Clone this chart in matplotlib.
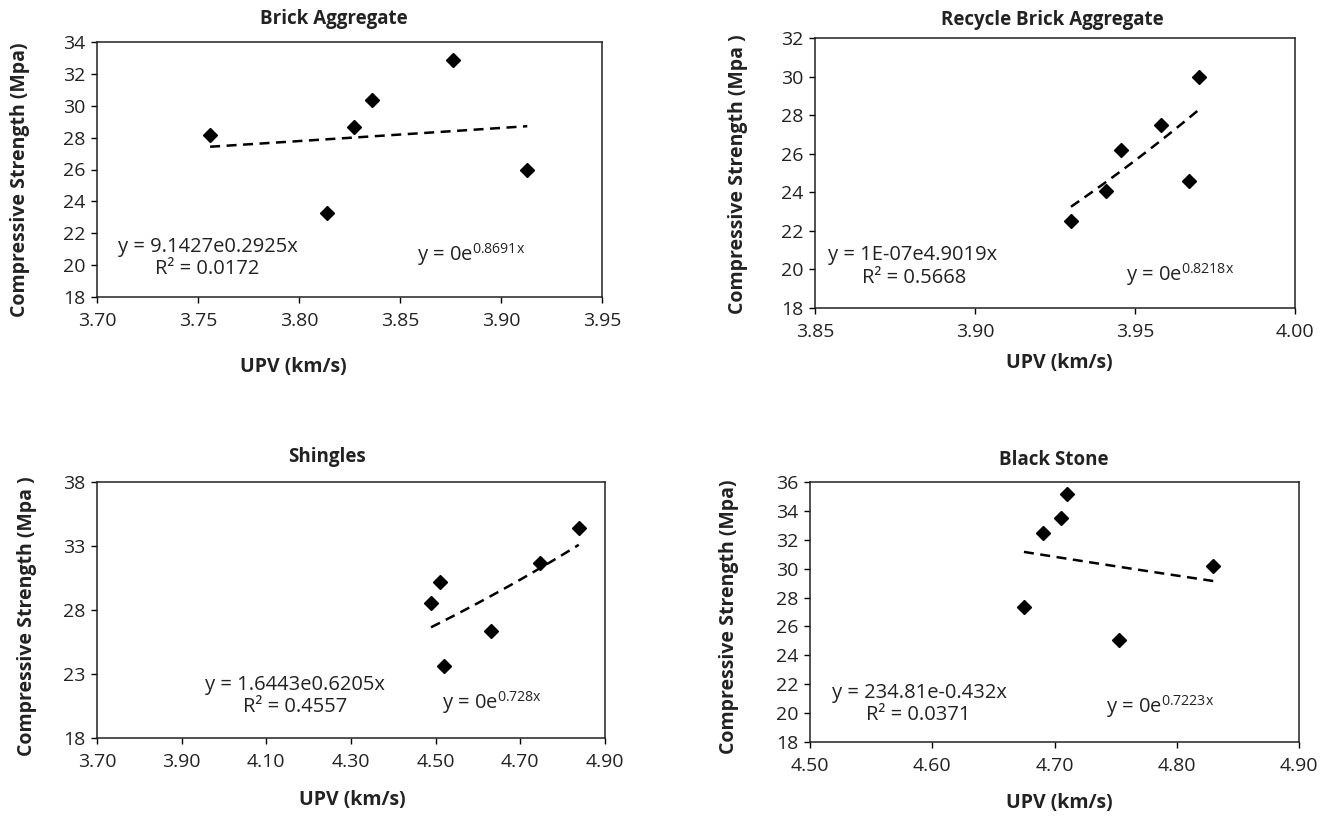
import numpy as np
import matplotlib
matplotlib.use("Agg")
import matplotlib.pyplot as plt

plt.rcParams['font.family'] = ['Open Sans', 'DejaVu Sans']
plt.rcParams['mathtext.default'] = 'regular'

W, H = 1328, 819

# datos de cada agregado: UPV (km/s) y resistencia (MPa)
titulos = ["Brick Aggregate", "Recycle Brick Aggregate", "Shingles", "Black Stone"]

upv_brick = [3.756, 3.814, 3.827, 3.836, 3.876, 3.913]
fc_brick = [28.14, 23.27, 28.67, 30.34, 32.89, 25.99]

upv_recycle = [3.930, 3.941, 3.9455, 3.958, 3.967, 3.970]
fc_recycle = [22.49, 24.08, 26.21, 27.47, 24.60, 29.98]

upv_shingles = [4.489, 4.511, 4.520, 4.631, 4.747, 4.838]
fc_shingles = [28.57, 30.21, 23.64, 26.39, 31.71, 34.42]

upv_stone = [4.675, 4.691, 4.705, 4.710, 4.753, 4.830]
fc_stone = [27.38, 32.44, 33.52, 35.17, 25.06, 30.18]

# linea de tendencia exponencial y = a*e^(b*x)
coef_a = [9.1427, 1e-07, 1.6443, 234.81]
coef_b = [0.2925, 4.9019, 0.6205, -0.432]
ecuaciones = ["y = 9.1427e0.2925x", "y = 1E-07e4.9019x", "y = 1.6443e0.6205x", "y = 234.81e-0.432x"]
r2 = ["0.0172", "0.5668", "0.4557", "0.0371"]
ecu_cero = ["0.8691x", "0.8218x", "0.728x", "0.7223x"]

xticks = [[3.70, 3.75, 3.80, 3.85, 3.90, 3.95],
          [3.85, 3.90, 3.95, 4.00],
          [3.70, 3.90, 4.10, 4.30, 4.50, 4.70, 4.90],
          [4.50, 4.60, 4.70, 4.80, 4.90]]
yticks = [list(range(18, 35, 2)),
          list(range(18, 33, 2)),
          [18, 23, 28, 33, 38],
          list(range(18, 37, 2))]
ylabels = ["Compressive Strength (Mpa)", "Compressive Strength (Mpa )",
           "Compressive Strength (Mpa )", "Compressive Strength (Mpa)"]

datos = [(upv_brick, fc_brick), (upv_recycle, fc_recycle),
         (upv_shingles, fc_shingles), (upv_stone, fc_stone)]

# posiciones en pixeles: caja del grafico (izq, der, arriba, abajo)
cajas = [(97, 602, 42, 297), (815, 1295, 38, 308), (97, 605, 482, 738), (810, 1299, 482, 742)]
pos_titulo = [(334, 19), (1052, 20), (327, 457), (1054, 460)]
pos_xlabel = [(293, 367), (1059, 363), (352, 800), (1059, 803)]
pos_ylabel = [(20, 180), (738, 174), (27, 616), (729, 617)]
pos_ecu = [(208, 247), (913, 255), (295, 685), (919, 693)]
pos_r2 = [(207, 269), (914, 278), (295, 707), (918, 715)]
pos_cero = [(471, 255), (1180, 275), (492, 703), (1160, 707)]


def fx(x):
    return x / W


def fy(y):
    return 1 - y / H


fig = plt.figure(figsize=(W / 100, H / 100), dpi=100)

for i in range(4):
    izq, der, arr, aba = cajas[i]
    ax = fig.add_axes([fx(izq), fy(aba), (der - izq) / W, (aba - arr) / H])
    x, y = datos[i]

    xt = np.linspace(min(x), max(x), 50)
    ax.plot(xt, coef_a[i] * np.exp(coef_b[i] * xt), color='black', lw=1.8,
            linestyle=(0, (4, 2.6)), zorder=2)
    ax.plot(x, y, 'D', color='black', markersize=7.4, zorder=3)

    ax.set_xlim(xticks[i][0], xticks[i][-1])
    ax.set_ylim(yticks[i][0], yticks[i][-1])
    ax.set_xticks(xticks[i])
    ax.set_xticklabels(["%.2f" % v for v in xticks[i]])
    ax.set_yticks(yticks[i])
    ax.tick_params(direction='out', length=4.5, width=1.0, labelsize=14,
                   labelcolor='#222222', pad=4)
    ax.tick_params(axis='x', pad=6)
    for s in ax.spines.values():
        s.set_linewidth(1.1)
        s.set_color('#222222')

    fig.text(fx(pos_titulo[i][0]), fy(pos_titulo[i][1]), titulos[i], ha='center', va='center',
             fontsize=13.5, fontweight='bold', color='#222222')
    fig.text(fx(pos_xlabel[i][0]), fy(pos_xlabel[i][1]), "UPV (km/s)", ha='center', va='center',
             fontsize=14, fontweight='bold', color='#222222')
    fig.text(fx(pos_ylabel[i][0]), fy(pos_ylabel[i][1]), ylabels[i], ha='center', va='center',
             rotation=90, fontsize=14, fontweight='bold', color='#222222')

    fig.text(fx(pos_ecu[i][0]), fy(pos_ecu[i][1]), ecuaciones[i], ha='center', va='center',
             fontsize=14.5, color='#222222')
    fig.text(fx(pos_r2[i][0]), fy(pos_r2[i][1]), "R² = " + r2[i], ha='center', va='center',
             fontsize=14.5, color='#222222')
    fig.text(fx(pos_cero[i][0]), fy(pos_cero[i][1]), "y = 0e$^{" + ecu_cero[i] + "}$",
             ha='center', va='center', fontsize=14.5, color='#222222')

fig.savefig("out.png", dpi=100)
